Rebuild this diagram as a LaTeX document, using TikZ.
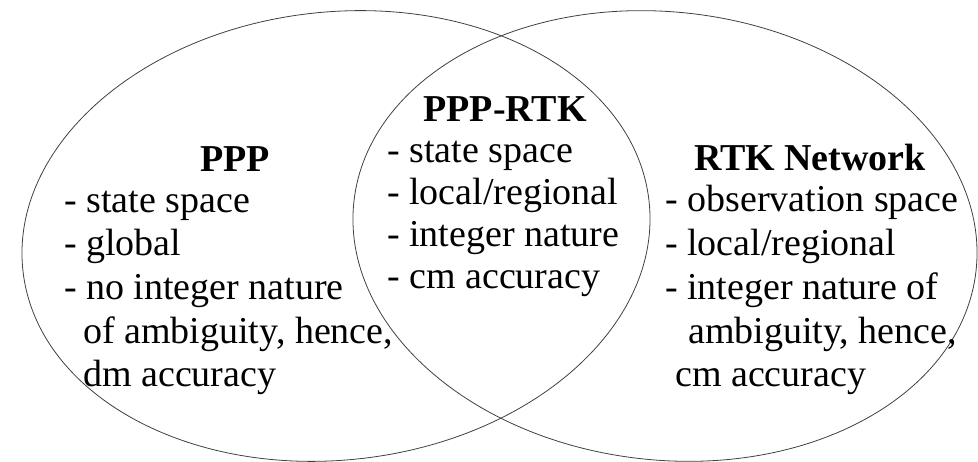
\documentclass[tikz,border=0pt]{standalone}
\usepackage{fontspec}
\setmainfont{Liberation Serif}
\begin{document}
\begin{tikzpicture}[x=1pt,y=1pt,
  ring/.style={draw=black!75,line width=0.8pt},
  txt/.style={anchor=base west,inner sep=0pt,font=\fontsize{38}{42}\selectfont},
  head/.style={anchor=base,inner sep=0pt,font=\fontsize{38}{42}\selectfont\bfseries}]
\useasboundingbox (0,0) rectangle (978,462);

% the two overlapping sets
\draw[ring,rotate around={6.4:(336,226)}] (336,226) ellipse [x radius=315pt,y radius=224pt];
\draw[ring,rotate around={-6.4:(665,226)}] (665,226) ellipse [x radius=313pt,y radius=224pt];

% left set: PPP
\node[head] (pppH) at (235,290) {PPP};
\node[txt] (ppp1) at (64,249) {- state space};
\node[txt] (ppp2) at (64,206) {- global};
\node[txt] (ppp3) at (64,162) {- no integer nature};
\node[txt] (ppp4) at (83,118) {of ambiguity, hence,};
\node[txt] (ppp5) at (83,75) {dm accuracy};

% overlap: PPP-RTK
\node[head] (midH) at (505,340) {PPP-RTK};
\node[txt] (mid1) at (387,299) {- state space};
\node[txt] (mid2) at (387,257) {- local/regional};
\node[txt] (mid3) at (387,215) {- integer nature};
\node[txt] (mid4) at (387,173) {- cm accuracy};

% right set: RTK Network
\node[head] (rtkH) at (810,291) {RTK Network};
\node[txt] (rtk1) at (665,250) {- observation space};
\node[txt] (rtk2) at (665,206) {- local/regional};
\node[txt] (rtk3) at (665,162) {- integer nature of};
\node[txt] (rtk4) at (688,118) {ambiguity, hence,};
\node[txt] (rtk5) at (675,75) {cm accuracy};
\end{tikzpicture}
\end{document}
